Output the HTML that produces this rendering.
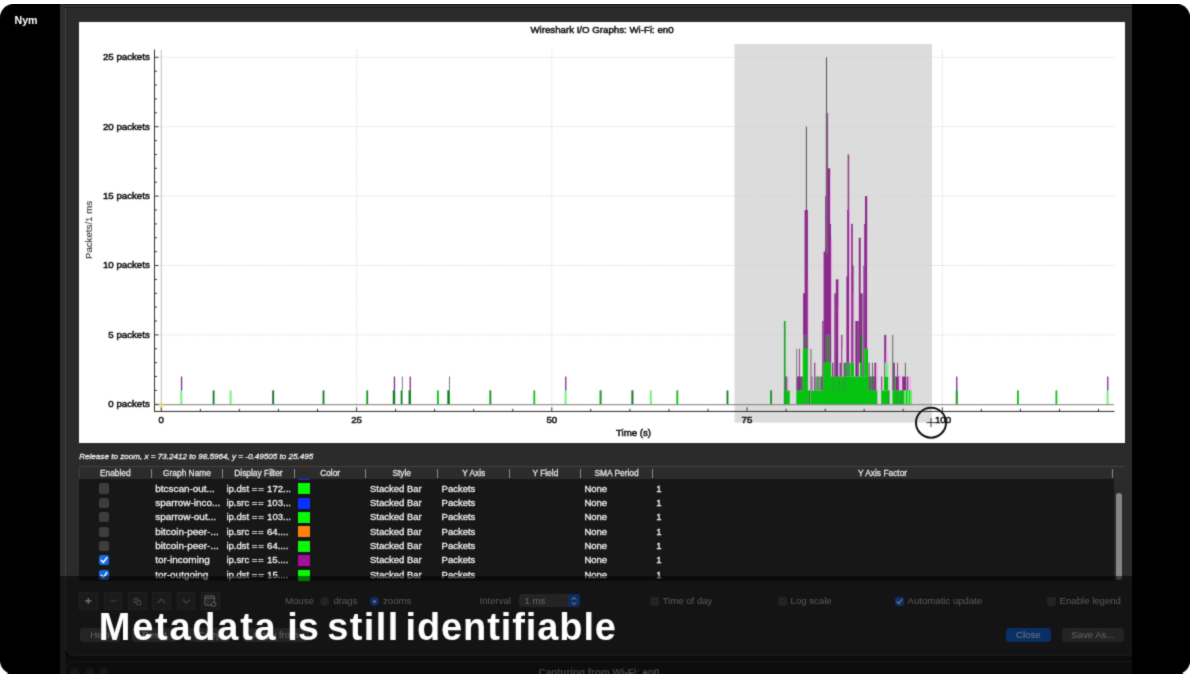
<!DOCTYPE html>
<html lang="en"><head><meta charset="utf-8"><title>Metadata is still identifiable</title>
<style>
html,body{margin:0;padding:0;background:#fff;}
body{width:1190px;height:676px;overflow:hidden;position:relative;font-family:"Liberation Sans",Arial,sans-serif;}
#frame{position:absolute;left:0;top:4px;width:1190px;height:669.5px;background:#000;border-radius:13.5px;overflow:hidden;filter:url(#soft);}
#frame *{box-sizing:border-box;}
.abs{position:absolute;}
#nym{position:absolute;left:14.6px;top:8.7px;color:#fff;font-weight:bold;font-size:10.6px;letter-spacing:-0.1px;line-height:14px;}
#gutter{position:absolute;left:60px;top:0;width:5.5px;height:669px;background:#2c2e30;}
#win{position:absolute;left:65px;top:0;width:1080px;height:651.6px;background:#2b2b2b;border-left:1px solid #414141;border-bottom:1px solid #3c3c3c;border-bottom-left-radius:9px;}
#rbar{position:absolute;left:1131.5px;top:0;width:60px;height:669px;background:#000;}
#wintop{position:absolute;left:65px;top:0;width:1066.5px;height:4px;background:#333536;border-top:1px solid #1c1c1c;border-bottom:1px solid #1a1a1a;}
#below{position:absolute;left:60px;top:651px;width:1071.5px;height:18px;background:#1b1b1b;}
#win2{position:absolute;left:65px;top:657.4px;width:1080px;height:14px;background:#1d1d1d;border-top:1px solid #343434;border-left:1px solid #343434;border-top-left-radius:9px;}
#win2 .t{position:absolute;left:0;width:1066px;top:3.6px;text-align:center;font-size:9.9px;font-weight:bold;color:#8a8a8a;line-height:11px;}
#win2 i{position:absolute;top:5.6px;width:9px;height:9px;border-radius:50%;background:#303030;}
#plot{position:absolute;left:79px;top:18px;width:1045.5px;height:420.5px;background:#fff;}
svg.chart{position:absolute;left:0;top:-4px;}
#status{position:absolute;left:79.2px;top:447.6px;color:#f2f2f2;font-style:italic;font-size:8.1px;-webkit-text-stroke:0.28px #f2f2f2;line-height:10px;white-space:nowrap;transform-origin:0 50%;}
#table{position:absolute;left:0;top:0;}
.thead{position:absolute;left:79.2px;top:462.3px;width:1045.3px;height:13px;background:#2c2c2c;border-top:1px solid #414141;border-left:1px solid #3c3c3c;}
.th{position:absolute;top:463.4px;height:12px;line-height:12px;text-align:center;color:#e4e4e4;font-size:8.4px;-webkit-text-stroke:0.28px #e4e4e4;white-space:nowrap;}
.sep{position:absolute;top:464.6px;width:1px;height:9px;background:#8c8c8c;}
.tbody{position:absolute;left:79.2px;top:475.3px;width:1045.3px;height:102px;background:#171717;overflow:hidden;}
.tr{position:absolute;left:0;width:100%;height:14.4px;}
.tr span{position:absolute;top:0;line-height:14.4px;font-size:9.5px;-webkit-text-stroke:0.3px #f1f1f1;color:#f1f1f1;white-space:nowrap;}
.tr span b{font-weight:normal;letter-spacing:0.7px;}
.cb{position:absolute;left:20.1px;top:1.8px;width:10.2px;height:10.2px;border-radius:2.6px;background:#3d3d3d;}
.cb.on{background:#1769e0;}
.cb svg{position:absolute;left:0;top:0;}
.sw{position:absolute;left:219.2px;top:1.7px;width:12px;height:11px;}
.track{position:absolute;left:1113.8px;top:475.3px;width:10.7px;height:102.4px;background:#2a2a2a;}
.scroll{position:absolute;left:1116.3px;top:488.8px;width:5.8px;height:87px;border-radius:3px;background:#868686;}
#ctl{position:absolute;left:0;top:0;}
.tb{position:absolute;top:587.7px;width:18.6px;height:18.6px;background:#373737;border:1px solid #434343;}
.tb svg{position:absolute;left:-1px;top:-1px;}
.lb{position:absolute;top:589.9px;line-height:13px;font-size:9.6px;color:#b9b9b9;white-space:nowrap;}
.radio{position:absolute;top:592.6px;width:9.4px;height:9.4px;border-radius:50%;background:#4a4a4a;}
.radio.on{background:#1b62d6;}
.radio.on i{position:absolute;left:3px;top:3px;width:3.4px;height:3.4px;border-radius:50%;background:#dfe7fa;}
.combo{position:absolute;left:519px;top:590px;width:61px;height:13.4px;border-radius:3.2px;background:#4b4b4b;overflow:hidden;}
.combo span{position:absolute;left:5.4px;top:0;line-height:13.4px;font-size:9.6px;color:#d4d4d4;}
.combo .step{position:absolute;right:0;top:0;width:12px;height:13.4px;background:#1b5fd0;border-radius:3.2px;}
.combo .step svg{position:absolute;left:2px;top:0.7px;}
.cb2{position:absolute;top:592.6px;width:9.4px;height:9.4px;border-radius:2.4px;background:#4a4a4a;}
.cb2.on{background:#1b62d6;}
.cb2 svg{position:absolute;left:0.2px;top:0.2px;}
.btn{position:absolute;top:624px;height:14.2px;border-radius:3.4px;background:#4d4d4d;color:#cfcfcf;font-size:9.6px;line-height:14.2px;text-align:center;white-space:nowrap;}
.btn.blue{background:#1561d6;color:#f4f4f4;}
#dim{position:absolute;left:60px;top:572px;width:1071.5px;height:97px;background:rgba(0,0,0,0.52);}
#caption{position:absolute;left:0;top:598.8px;width:700px;height:48px;color:#fff;font-weight:bold;font-size:38px;line-height:48px;white-space:nowrap;}
#caption span{position:absolute;top:0;}
</style></head><body>
<svg width="0" height="0" style="position:absolute"><defs><filter id="soft" x="0" y="0" width="100%" height="100%" color-interpolation-filters="sRGB"><feConvolveMatrix order="3" kernelMatrix="0.025 0.1 0.025 0.1 0.5 0.1 0.025 0.1 0.025" divisor="1" edgeMode="duplicate" preserveAlpha="false"/></filter></defs></svg>
<div id="frame">
<div id="nym">Nym</div>
<div id="below"></div>
<div id="gutter"></div>
<div id="win"></div><div id="wintop"></div>
<div id="win2"><i style="left:4.4px"></i><i style="left:19px"></i><i style="left:33.4px"></i><div class="t">Capturing from Wi-Fi: en0</div></div>
<div id="plot"></div>
<svg class="chart" width="1190" height="676" viewBox="0 0 1190 676">
<rect x="734.5" y="44" width="197.5" height="378.6" fill="#dcdcdc"/>
<line x1="158" x2="1114" y1="334.9" y2="334.9" stroke="#cfcfcf" stroke-width="1" stroke-dasharray="1 1.5"/>
<line x1="158" x2="1114" y1="265.5" y2="265.5" stroke="#cfcfcf" stroke-width="1" stroke-dasharray="1 1.5"/>
<line x1="158" x2="1114" y1="196.1" y2="196.1" stroke="#cfcfcf" stroke-width="1" stroke-dasharray="1 1.5"/>
<line x1="158" x2="1114" y1="126.7" y2="126.7" stroke="#cfcfcf" stroke-width="1" stroke-dasharray="1 1.5"/>
<line x1="158" x2="1114" y1="57.3" y2="57.3" stroke="#cfcfcf" stroke-width="1" stroke-dasharray="1 1.5"/>
<line x1="356.6" x2="356.6" y1="50" y2="408" stroke="#d4d4d4" stroke-width="1" stroke-dasharray="1 1.5"/>
<line x1="551.8" x2="551.8" y1="50" y2="408" stroke="#d4d4d4" stroke-width="1" stroke-dasharray="1 1.5"/>
<line x1="747.0" x2="747.0" y1="50" y2="408" stroke="#d4d4d4" stroke-width="1" stroke-dasharray="1 1.5"/>
<line x1="942.3" x2="942.3" y1="50" y2="408" stroke="#d4d4d4" stroke-width="1" stroke-dasharray="1 1.5"/>
<line x1="161.3" x2="161.3" y1="50" y2="411" stroke="#bdbdbd" stroke-width="1"/>
<rect x="180.3" y="390.4" width="2.0" height="13.9" fill="#74f27a"/>
<rect x="180.9" y="376.5" width="1.3" height="13.9" fill="#862486"/>
<rect x="212.7" y="390.4" width="1.8" height="13.9" fill="#0b7d1f"/>
<rect x="229.6" y="390.4" width="2.0" height="13.9" fill="#74f27a"/>
<rect x="272.2" y="390.4" width="1.8" height="13.9" fill="#0b7d1f"/>
<rect x="273.3" y="390.4" width="0.8" height="13.9" fill="#4a5a50"/>
<rect x="322.6" y="390.4" width="1.8" height="13.9" fill="#0b7d1f"/>
<rect x="366.2" y="390.4" width="1.8" height="13.9" fill="#06c312"/>
<rect x="367.3" y="390.4" width="0.8" height="13.9" fill="#4a5a50"/>
<rect x="393.2" y="390.4" width="2.0" height="13.9" fill="#74f27a"/>
<rect x="393.3" y="390.4" width="1.8" height="13.9" fill="#0b7d1f"/>
<rect x="393.8" y="376.5" width="1.3" height="13.9" fill="#862486"/>
<rect x="400.7" y="390.4" width="1.8" height="13.9" fill="#0b7d1f"/>
<rect x="401.9" y="376.5" width="0.8" height="13.9" fill="#5a5a5a"/>
<rect x="409.0" y="390.4" width="2.0" height="13.9" fill="#74f27a"/>
<rect x="409.1" y="390.4" width="1.8" height="13.9" fill="#0b7d1f"/>
<rect x="409.6" y="376.5" width="1.3" height="13.9" fill="#862486"/>
<rect x="437.0" y="390.4" width="1.8" height="13.9" fill="#06c312"/>
<rect x="447.8" y="390.4" width="2.0" height="13.9" fill="#74f27a"/>
<rect x="447.9" y="390.4" width="1.8" height="13.9" fill="#0b7d1f"/>
<rect x="449.1" y="376.5" width="0.8" height="13.9" fill="#5a5a5a"/>
<rect x="489.3" y="390.4" width="1.8" height="13.9" fill="#06c312"/>
<rect x="490.4" y="390.4" width="0.8" height="13.9" fill="#4a5a50"/>
<rect x="533.4" y="390.4" width="1.8" height="13.9" fill="#06c312"/>
<rect x="564.6" y="390.4" width="2.0" height="13.9" fill="#74f27a"/>
<rect x="565.1" y="376.5" width="1.3" height="13.9" fill="#862486"/>
<rect x="599.5" y="390.4" width="1.8" height="13.9" fill="#06c312"/>
<rect x="600.6" y="390.4" width="0.8" height="13.9" fill="#4a5a50"/>
<rect x="631.4" y="390.4" width="1.8" height="13.9" fill="#0b7d1f"/>
<rect x="632.5" y="390.4" width="0.8" height="13.9" fill="#4a5a50"/>
<rect x="649.8" y="390.4" width="2.0" height="13.9" fill="#74f27a"/>
<rect x="676.4" y="390.4" width="1.8" height="13.9" fill="#06c312"/>
<rect x="726.6" y="390.4" width="1.8" height="13.9" fill="#0b7d1f"/>
<rect x="770.0" y="390.4" width="1.8" height="13.9" fill="#06c312"/>
<rect x="771.1" y="390.4" width="0.8" height="13.9" fill="#4a5a50"/>
<rect x="955.7" y="390.4" width="1.8" height="13.9" fill="#06c312"/>
<rect x="956.8" y="390.4" width="0.8" height="13.9" fill="#4a5a50"/>
<rect x="956.1" y="376.5" width="1.3" height="13.9" fill="#862486"/>
<rect x="1017.0" y="390.4" width="1.8" height="13.9" fill="#06c312"/>
<rect x="1055.5" y="390.4" width="1.8" height="13.9" fill="#06c312"/>
<rect x="1106.6" y="390.4" width="2.0" height="13.9" fill="#74f27a"/>
<rect x="1107.1" y="376.5" width="1.3" height="13.9" fill="#862486"/>
<rect x="392.8" y="390.4" width="1.2" height="13.9" fill="#0b7d1f"/>
<rect x="408.6" y="390.4" width="1.2" height="13.9" fill="#0b7d1f"/>
<rect x="447.4" y="390.4" width="1.2" height="13.9" fill="#0b7d1f"/>
<rect x="783.9" y="390.4" width="5.9" height="13.9" fill="#06c312"/>
<rect x="783.9" y="321.0" width="1.7" height="83.3" fill="#14a81e"/>
<rect x="785.3" y="376.5" width="2.2" height="13.9" fill="#6d566f"/>
<rect x="787.3" y="376.5" width="1.7" height="13.9" fill="#f3b4ee"/>
<rect x="796.3" y="390.4" width="12.4" height="13.9" fill="#06c312"/>
<rect x="796.3" y="376.5" width="6.5" height="13.9" fill="#6d566f"/>
<rect x="798.0" y="376.5" width="2.0" height="13.9" fill="#8c2a8c"/>
<rect x="796.4" y="348.8" width="0.8" height="27.8" fill="#5a5a5a"/>
<rect x="799.0" y="348.8" width="0.9" height="27.8" fill="#8c2a8c"/>
<rect x="802.9" y="348.8" width="5.3" height="55.5" fill="#06c312"/>
<rect x="803.2" y="334.9" width="4.8" height="13.9" fill="#6d566f"/>
<rect x="803.1" y="293.3" width="1.9" height="41.6" fill="#8c2a8c"/>
<rect x="804.6" y="210.0" width="3.3" height="124.9" fill="#8c2a8c"/>
<rect x="807.9" y="279.4" width="0.9" height="111.0" fill="#f3b4ee"/>
<rect x="805.9" y="126.7" width="0.9" height="83.3" fill="#4b3a4b"/>
<rect x="808.7" y="390.4" width="1.3" height="13.9" fill="#3c6b40"/>
<rect x="810.5" y="348.8" width="0.9" height="41.6" fill="#5a5a5a"/>
<rect x="810.3" y="390.4" width="67.0" height="13.9" fill="#06c312"/>
<rect x="811.4" y="376.5" width="2.2" height="13.9" fill="#f3b4ee"/>
<rect x="811.4" y="376.5" width="1.0" height="13.9" fill="#6d566f"/>
<rect x="814.1" y="376.5" width="1.3" height="13.9" fill="#6d566f"/>
<rect x="814.2" y="362.7" width="1.1" height="13.9" fill="#8c2a8c"/>
<rect x="815.6" y="376.5" width="0.8" height="13.9" fill="#6d566f"/>
<rect x="816.4" y="376.5" width="0.6" height="13.9" fill="#2fa63a"/>
<rect x="817.0" y="376.5" width="0.8" height="13.9" fill="#3e8a46"/>
<rect x="817.8" y="376.5" width="0.6" height="13.9" fill="#2fa63a"/>
<rect x="818.4" y="376.5" width="0.8" height="13.9" fill="#6d566f"/>
<rect x="819.2" y="376.5" width="0.6" height="13.9" fill="#2fa63a"/>
<rect x="819.8" y="376.5" width="0.8" height="13.9" fill="#3e8a46"/>
<rect x="820.6" y="376.5" width="0.6" height="13.9" fill="#2fa63a"/>
<rect x="821.0" y="376.5" width="1.3" height="13.9" fill="#6d566f"/>
<rect x="822.3" y="321.0" width="1.3" height="55.5" fill="#8c2a8c"/>
<rect x="822.3" y="376.5" width="1.3" height="13.9" fill="#6e3070"/>
<rect x="823.4" y="362.7" width="7.8" height="41.6" fill="#06c312"/>
<rect x="825.0" y="334.9" width="5.3" height="27.8" fill="#3f8a4a"/>
<rect x="826.0" y="334.9" width="1.0" height="27.8" fill="#6d566f"/>
<rect x="828.2" y="334.9" width="0.8" height="27.8" fill="#6d566f"/>
<rect x="823.6" y="251.6" width="2.0" height="111.0" fill="#8c2a8c"/>
<rect x="825.0" y="248.8" width="5.4" height="86.1" fill="#8c2a8c"/>
<rect x="825.2" y="196.1" width="1.7" height="58.3" fill="#8c2a8c"/>
<rect x="825.8" y="112.8" width="2.3" height="141.6" fill="#7a5a7c"/>
<rect x="827.8" y="168.3" width="2.4" height="86.1" fill="#8c2a8c"/>
<rect x="829.4" y="223.9" width="1.6" height="30.5" fill="#8c2a8c"/>
<rect x="830.0" y="237.7" width="1.4" height="124.9" fill="#8c2a8c"/>
<rect x="831.2" y="237.7" width="1.0" height="138.8" fill="#f3b4ee"/>
<rect x="830.2" y="175.3" width="0.8" height="48.6" fill="#f3b4ee"/>
<rect x="826.1" y="57.3" width="0.9" height="55.5" fill="#4b3a4b"/>
<rect x="831.0" y="376.5" width="15.5" height="27.8" fill="#06c312"/>
<rect x="833.0" y="376.5" width="0.8" height="13.9" fill="#3f8a4a"/>
<rect x="838.6" y="376.5" width="0.8" height="13.9" fill="#3f8a4a"/>
<rect x="842.6" y="376.5" width="0.8" height="13.9" fill="#3f8a4a"/>
<rect x="845.0" y="376.5" width="0.8" height="13.9" fill="#3f8a4a"/>
<rect x="832.0" y="362.7" width="1.5" height="13.9" fill="#6d566f"/>
<rect x="834.3" y="293.3" width="1.5" height="83.3" fill="#8c2a8c"/>
<rect x="835.8" y="279.4" width="2.6" height="97.2" fill="#8c2a8c"/>
<rect x="838.4" y="307.1" width="0.8" height="69.4" fill="#f3b4ee"/>
<rect x="836.4" y="348.8" width="0.8" height="27.8" fill="#6e3070"/>
<rect x="839.5" y="362.7" width="1.5" height="13.9" fill="#6d566f"/>
<rect x="841.2" y="334.9" width="1.2" height="41.6" fill="#8c2a8c"/>
<rect x="842.4" y="348.8" width="0.6" height="27.8" fill="#f3b4ee"/>
<rect x="843.6" y="362.7" width="1.4" height="13.9" fill="#6d566f"/>
<rect x="845.0" y="362.7" width="1.4" height="13.9" fill="#3f8a4a"/>
<rect x="846.0" y="376.5" width="22.5" height="27.8" fill="#06c312"/>
<rect x="846.0" y="362.7" width="4.7" height="13.9" fill="#3f9a4a"/>
<rect x="846.4" y="276.6" width="3.0" height="86.1" fill="#8c2a8c"/>
<rect x="847.2" y="210.0" width="2.2" height="69.4" fill="#8c2a8c"/>
<rect x="847.6" y="154.5" width="1.6" height="58.3" fill="#8a3f8c"/>
<rect x="849.2" y="210.0" width="1.2" height="152.7" fill="#f3b4ee"/>
<rect x="851.0" y="362.7" width="3.0" height="13.9" fill="#06c312"/>
<rect x="851.2" y="223.9" width="1.6" height="138.8" fill="#8c2a8c"/>
<rect x="852.4" y="265.5" width="1.2" height="97.2" fill="#8c2a8c"/>
<rect x="853.6" y="293.3" width="1.0" height="69.4" fill="#f3b4ee"/>
<rect x="855.4" y="321.0" width="1.8" height="55.5" fill="#6e3070"/>
<rect x="857.2" y="321.0" width="1.6" height="55.5" fill="#8c2a8c"/>
<rect x="858.8" y="237.7" width="1.9" height="124.9" fill="#8c2a8c"/>
<rect x="860.2" y="293.3" width="2.0" height="69.4" fill="#8c2a8c"/>
<rect x="860.0" y="362.7" width="2.6" height="13.9" fill="#06c312"/>
<rect x="860.4" y="334.9" width="1.6" height="27.8" fill="#0b7d1f"/>
<rect x="862.6" y="293.3" width="0.8" height="83.3" fill="#6e3070"/>
<rect x="863.4" y="265.5" width="0.8" height="111.0" fill="#8c2a8c"/>
<rect x="864.2" y="348.8" width="3.8" height="27.8" fill="#06c312"/>
<rect x="864.2" y="223.9" width="1.0" height="124.9" fill="#8c2a8c"/>
<rect x="865.0" y="196.1" width="2.2" height="152.7" fill="#8c2a8c"/>
<rect x="867.2" y="237.7" width="0.8" height="111.0" fill="#f3b4ee"/>
<rect x="868.5" y="376.5" width="8.8" height="13.9" fill="#3f9a4a"/>
<rect x="868.5" y="362.7" width="1.2" height="27.8" fill="#5a5a5a"/>
<rect x="870.4" y="376.5" width="1.0" height="13.9" fill="#6d566f"/>
<rect x="872.1" y="362.7" width="0.9" height="27.8" fill="#5a5a5a"/>
<rect x="873.4" y="376.5" width="1.0" height="13.9" fill="#6d566f"/>
<rect x="874.4" y="362.7" width="1.8" height="27.8" fill="#8c2a8c"/>
<rect x="876.2" y="362.7" width="1.8" height="27.8" fill="#f3b4ee"/>
<rect x="881.2" y="390.4" width="8.2" height="13.9" fill="#06c312"/>
<rect x="881.2" y="376.5" width="1.2" height="13.9" fill="#8c2a8c"/>
<rect x="882.4" y="376.5" width="1.0" height="13.9" fill="#f3b4ee"/>
<rect x="884.0" y="376.5" width="4.2" height="13.9" fill="#06c312"/>
<rect x="885.8" y="362.7" width="2.4" height="13.9" fill="#74f27a"/>
<rect x="884.2" y="334.9" width="2.0" height="27.8" fill="#8c2a8c"/>
<rect x="884.2" y="362.7" width="1.0" height="13.9" fill="#6d566f"/>
<rect x="886.2" y="348.8" width="1.6" height="13.9" fill="#f3b4ee"/>
<rect x="888.4" y="390.4" width="1.0" height="13.9" fill="#3c8a44"/>
<rect x="892.4" y="390.4" width="19.2" height="13.9" fill="#06c312"/>
<rect x="892.3" y="334.9" width="0.9" height="55.5" fill="#5a5a5a"/>
<rect x="893.2" y="362.7" width="1.6" height="27.8" fill="#6e3070"/>
<rect x="894.8" y="376.5" width="1.0" height="13.9" fill="#06c312"/>
<rect x="895.8" y="376.5" width="4.6" height="13.9" fill="#8c2a8c"/>
<rect x="897.0" y="362.7" width="0.9" height="13.9" fill="#8c2a8c"/>
<rect x="898.8" y="376.5" width="2.2" height="13.9" fill="#f3b4ee"/>
<rect x="896.6" y="390.4" width="0.8" height="13.9" fill="#3c8a44"/>
<rect x="900.6" y="390.4" width="0.8" height="13.9" fill="#3c8a44"/>
<rect x="902.2" y="376.5" width="4.1" height="13.9" fill="#8c2a8c"/>
<rect x="904.9" y="362.7" width="0.9" height="13.9" fill="#5a5a5a"/>
<rect x="903.4" y="390.4" width="0.8" height="13.9" fill="#5a8a60"/>
<rect x="904.2" y="390.4" width="7.4" height="13.9" fill="#74f27a"/>
<rect x="906.0" y="390.4" width="1.2" height="13.9" fill="#06c312"/>
<rect x="908.8" y="390.4" width="1.0" height="13.9" fill="#06c312"/>
<rect x="908.2" y="376.5" width="3.0" height="13.9" fill="#f3b4ee"/>
<rect x="907.0" y="376.5" width="1.2" height="13.9" fill="#6d566f"/>
<line x1="154.5" x2="1114" y1="404.7" y2="404.7" stroke="#7d7d7d" stroke-width="1"/>
<line x1="154.5" x2="154.5" y1="49.5" y2="411.9" stroke="#2e2e2e" stroke-width="1"/>
<line x1="154" x2="1114.5" y1="411.45" y2="411.45" stroke="#2a2a2a" stroke-width="1"/>
<line x1="154.5" x2="158.5" y1="404.3" y2="404.3" stroke="#3a3a3a" stroke-width="1"/>
<line x1="154.5" x2="157" y1="390.4" y2="390.4" stroke="#333" stroke-width="1"/>
<line x1="154.5" x2="157" y1="376.5" y2="376.5" stroke="#333" stroke-width="1"/>
<line x1="154.5" x2="157" y1="362.7" y2="362.7" stroke="#333" stroke-width="1"/>
<line x1="154.5" x2="157" y1="348.8" y2="348.8" stroke="#333" stroke-width="1"/>
<line x1="154.5" x2="158.5" y1="334.9" y2="334.9" stroke="#3a3a3a" stroke-width="1"/>
<line x1="154.5" x2="157" y1="321.0" y2="321.0" stroke="#333" stroke-width="1"/>
<line x1="154.5" x2="157" y1="307.1" y2="307.1" stroke="#333" stroke-width="1"/>
<line x1="154.5" x2="157" y1="293.3" y2="293.3" stroke="#333" stroke-width="1"/>
<line x1="154.5" x2="157" y1="279.4" y2="279.4" stroke="#333" stroke-width="1"/>
<line x1="154.5" x2="158.5" y1="265.5" y2="265.5" stroke="#3a3a3a" stroke-width="1"/>
<line x1="154.5" x2="157" y1="251.6" y2="251.6" stroke="#333" stroke-width="1"/>
<line x1="154.5" x2="157" y1="237.7" y2="237.7" stroke="#333" stroke-width="1"/>
<line x1="154.5" x2="157" y1="223.9" y2="223.9" stroke="#333" stroke-width="1"/>
<line x1="154.5" x2="157" y1="210.0" y2="210.0" stroke="#333" stroke-width="1"/>
<line x1="154.5" x2="158.5" y1="196.1" y2="196.1" stroke="#3a3a3a" stroke-width="1"/>
<line x1="154.5" x2="157" y1="182.2" y2="182.2" stroke="#333" stroke-width="1"/>
<line x1="154.5" x2="157" y1="168.3" y2="168.3" stroke="#333" stroke-width="1"/>
<line x1="154.5" x2="157" y1="154.5" y2="154.5" stroke="#333" stroke-width="1"/>
<line x1="154.5" x2="157" y1="140.6" y2="140.6" stroke="#333" stroke-width="1"/>
<line x1="154.5" x2="158.5" y1="126.7" y2="126.7" stroke="#3a3a3a" stroke-width="1"/>
<line x1="154.5" x2="157" y1="112.8" y2="112.8" stroke="#333" stroke-width="1"/>
<line x1="154.5" x2="157" y1="98.9" y2="98.9" stroke="#333" stroke-width="1"/>
<line x1="154.5" x2="157" y1="85.1" y2="85.1" stroke="#333" stroke-width="1"/>
<line x1="154.5" x2="157" y1="71.2" y2="71.2" stroke="#333" stroke-width="1"/>
<line x1="154.5" x2="158.5" y1="57.3" y2="57.3" stroke="#3a3a3a" stroke-width="1"/>
<line x1="161.3" x2="161.3" y1="407.3" y2="411.2" stroke="#3a3a3a" stroke-width="1"/>
<line x1="200.4" x2="200.4" y1="408.8" y2="411.2" stroke="#333" stroke-width="1"/>
<line x1="239.4" x2="239.4" y1="408.8" y2="411.2" stroke="#333" stroke-width="1"/>
<line x1="278.4" x2="278.4" y1="408.8" y2="411.2" stroke="#333" stroke-width="1"/>
<line x1="317.5" x2="317.5" y1="408.8" y2="411.2" stroke="#333" stroke-width="1"/>
<line x1="356.6" x2="356.6" y1="407.3" y2="411.2" stroke="#3a3a3a" stroke-width="1"/>
<line x1="395.6" x2="395.6" y1="408.8" y2="411.2" stroke="#333" stroke-width="1"/>
<line x1="434.6" x2="434.6" y1="408.8" y2="411.2" stroke="#333" stroke-width="1"/>
<line x1="473.7" x2="473.7" y1="408.8" y2="411.2" stroke="#333" stroke-width="1"/>
<line x1="512.8" x2="512.8" y1="408.8" y2="411.2" stroke="#333" stroke-width="1"/>
<line x1="551.8" x2="551.8" y1="407.3" y2="411.2" stroke="#3a3a3a" stroke-width="1"/>
<line x1="590.8" x2="590.8" y1="408.8" y2="411.2" stroke="#333" stroke-width="1"/>
<line x1="629.9" x2="629.9" y1="408.8" y2="411.2" stroke="#333" stroke-width="1"/>
<line x1="669.0" x2="669.0" y1="408.8" y2="411.2" stroke="#333" stroke-width="1"/>
<line x1="708.0" x2="708.0" y1="408.8" y2="411.2" stroke="#333" stroke-width="1"/>
<line x1="747.0" x2="747.0" y1="407.3" y2="411.2" stroke="#3a3a3a" stroke-width="1"/>
<line x1="786.1" x2="786.1" y1="408.8" y2="411.2" stroke="#333" stroke-width="1"/>
<line x1="825.2" x2="825.2" y1="408.8" y2="411.2" stroke="#333" stroke-width="1"/>
<line x1="864.2" x2="864.2" y1="408.8" y2="411.2" stroke="#333" stroke-width="1"/>
<line x1="903.2" x2="903.2" y1="408.8" y2="411.2" stroke="#333" stroke-width="1"/>
<line x1="942.3" x2="942.3" y1="407.3" y2="411.2" stroke="#3a3a3a" stroke-width="1"/>
<line x1="981.3" x2="981.3" y1="408.8" y2="411.2" stroke="#333" stroke-width="1"/>
<line x1="1020.4" x2="1020.4" y1="408.8" y2="411.2" stroke="#333" stroke-width="1"/>
<line x1="1059.5" x2="1059.5" y1="408.8" y2="411.2" stroke="#333" stroke-width="1"/>
<line x1="1098.5" x2="1098.5" y1="408.8" y2="411.2" stroke="#333" stroke-width="1"/>
<circle cx="161.3" cy="404.8" r="2.8" fill="#f7e36a" fill-opacity="0.6"/>
<g font-family="'Liberation Sans', Arial, sans-serif" font-size="9.7" fill="#111" stroke="#111" stroke-width="0.5" paint-order="stroke">
<text x="149.8" y="407.2" text-anchor="end">0 packets</text>
<text x="149.8" y="337.8" text-anchor="end">5 packets</text>
<text x="149.8" y="268.4" text-anchor="end">10 packets</text>
<text x="149.8" y="199.0" text-anchor="end">15 packets</text>
<text x="149.8" y="129.6" text-anchor="end">20 packets</text>
<text x="149.8" y="60.2" text-anchor="end">25 packets</text>
<text x="161.3" y="423" text-anchor="middle">0</text>
<text x="356.6" y="423" text-anchor="middle">25</text>
<text x="551.8" y="423" text-anchor="middle">50</text>
<text x="747.0" y="423" text-anchor="middle">75</text>
<text x="943" y="423" text-anchor="middle">100</text>
<text x="633.5" y="435.8" text-anchor="middle">Time (s)</text>
<text x="602" y="32.5" text-anchor="middle">Wireshark I/O Graphs: Wi-Fi: en0</text>
<text transform="translate(92.3 230) rotate(-90)" text-anchor="middle" stroke-width="0.1" fill="#333">Packets/1 ms</text>
</g>
<circle cx="931" cy="422.7" r="15" fill="none" stroke="#111" stroke-width="2"/>
<path d="M926.5 422.6H935.5M931 418.1V427.1" stroke="#222" stroke-width="0.9" fill="none"/>
</svg>
<div id="status">Release to zoom, x = 73.2412 to 98.5964, y = -0.49505 to 25.495</div>
<div id="table"><div class="thead"></div>
<div class="th" style="left:79.2px;width:72.3px">Enabled</div>
<div class="sep" style="left:151.0px"></div>
<div class="th" style="left:151.5px;width:71.0px">Graph Name</div>
<div class="sep" style="left:222.0px"></div>
<div class="th" style="left:222.5px;width:71.9px">Display Filter</div>
<div class="sep" style="left:293.9px"></div>
<div class="th" style="left:294.4px;width:71.5px">Color</div>
<div class="sep" style="left:365.4px"></div>
<div class="th" style="left:365.9px;width:71.6px">Style</div>
<div class="sep" style="left:437.0px"></div>
<div class="th" style="left:437.5px;width:72.4px">Y Axis</div>
<div class="sep" style="left:509.4px"></div>
<div class="th" style="left:509.9px;width:70.9px">Y Field</div>
<div class="sep" style="left:580.3px"></div>
<div class="th" style="left:580.8px;width:71.6px">SMA Period</div>
<div class="sep" style="left:651.9px"></div>
<div class="th" style="left:652.4px;width:460.3px">Y Axis Factor</div>
<div class="sep" style="left:1112.2px"></div>
<div class="tbody">
<div class="sw" style="top:-10.4px;background:#0a32ff"></div>
<div class="tr" style="top:2.30px">
<div class="cb"></div>
<span style="left:76px;font-size:9.95px">btcscan-out...</span><span style="left:147.2px;font-size:9.55px">ip.dst <b>==</b> 172...</span>
<div class="sw" style="background:#08f808"></div>
<span style="left:290.8px">Stacked Bar</span><span style="left:362.4px">Packets</span><span style="left:505.2px">None</span><span style="left:577px">1</span>
</div>
<div class="tr" style="top:16.68px">
<div class="cb"></div>
<span style="left:76px;font-size:9.95px">sparrow-inco...</span><span style="left:147.2px;font-size:9.55px">ip.src <b>==</b> 103...</span>
<div class="sw" style="background:#0a32ff"></div>
<span style="left:290.8px">Stacked Bar</span><span style="left:362.4px">Packets</span><span style="left:505.2px">None</span><span style="left:577px">1</span>
</div>
<div class="tr" style="top:31.06px">
<div class="cb"></div>
<span style="left:76px;font-size:9.95px">sparrow-out...</span><span style="left:147.2px;font-size:9.55px">ip.dst <b>==</b> 103...</span>
<div class="sw" style="background:#08f808"></div>
<span style="left:290.8px">Stacked Bar</span><span style="left:362.4px">Packets</span><span style="left:505.2px">None</span><span style="left:577px">1</span>
</div>
<div class="tr" style="top:45.44px">
<div class="cb"></div>
<span style="left:76px;font-size:9.95px">bitcoin-peer-...</span><span style="left:147.2px;font-size:9.55px">ip.src <b>==</b> 64....</span>
<div class="sw" style="background:#ff7f0e"></div>
<span style="left:290.8px">Stacked Bar</span><span style="left:362.4px">Packets</span><span style="left:505.2px">None</span><span style="left:577px">1</span>
</div>
<div class="tr" style="top:59.82px">
<div class="cb"></div>
<span style="left:76px;font-size:9.95px">bitcoin-peer-...</span><span style="left:147.2px;font-size:9.55px">ip.dst <b>==</b> 64....</span>
<div class="sw" style="background:#08f808"></div>
<span style="left:290.8px">Stacked Bar</span><span style="left:362.4px">Packets</span><span style="left:505.2px">None</span><span style="left:577px">1</span>
</div>
<div class="tr" style="top:74.20px">
<div class="cb on"><svg width="10.2" height="10.2" viewBox="0 0 10 10"><path d="M2.3 5.2L4.2 7.3L7.7 2.6" fill="none" stroke="#fff" stroke-width="1.5" stroke-linecap="round" stroke-linejoin="round"/></svg></div>
<span style="left:76px;font-size:9.95px">tor-incoming</span><span style="left:147.2px;font-size:9.55px">ip.src <b>==</b> 15....</span>
<div class="sw" style="background:#a0109a"></div>
<span style="left:290.8px">Stacked Bar</span><span style="left:362.4px">Packets</span><span style="left:505.2px">None</span><span style="left:577px">1</span>
</div>
<div class="tr" style="top:88.58px">
<div class="cb on"><svg width="10.2" height="10.2" viewBox="0 0 10 10"><path d="M2.3 5.2L4.2 7.3L7.7 2.6" fill="none" stroke="#fff" stroke-width="1.5" stroke-linecap="round" stroke-linejoin="round"/></svg></div>
<span style="left:76px;font-size:9.95px">tor-outgoing</span><span style="left:147.2px;font-size:9.55px">ip.dst <b>==</b> 15....</span>
<div class="sw" style="background:#08f808"></div>
<span style="left:290.8px">Stacked Bar</span><span style="left:362.4px">Packets</span><span style="left:505.2px">None</span><span style="left:577px">1</span>
</div>
</div>
<div class="track"></div><div class="scroll"></div></div>
<div id="ctl"><div class="tb" style="left:79.2px"><svg width="18" height="18" viewBox="0 0 18 18"><path d="M9.3 5.9V12.1M6.2 9H12.4" stroke="#f0f0f0" stroke-width="1.3" fill="none"/></svg></div>
<div class="tb" style="left:103.6px"><svg width="18" height="18" viewBox="0 0 18 18"><path d="M6.3 9H12.3" stroke="#8e8e8e" stroke-width="1.2" fill="none"/></svg></div>
<div class="tb" style="left:128.0px"><svg width="18" height="18" viewBox="0 0 18 18"><rect x="6.2" y="6.6" width="4" height="3.8" rx="0.2" fill="none" stroke="#a0a0a0" stroke-width="1"/><rect x="8.9" y="8.8" width="3.8" height="4" rx="0.2" fill="#383838" stroke="#a0a0a0" stroke-width="1"/></svg></div>
<div class="tb" style="left:152.4px"><svg width="18" height="18" viewBox="0 0 18 18"><path d="M5.6 11L9.4 7.2L13.2 11" stroke="#8e8e8e" stroke-width="1.2" fill="none"/></svg></div>
<div class="tb" style="left:176.8px"><svg width="18" height="18" viewBox="0 0 18 18"><path d="M5.6 7.3L9.4 11.1L13.2 7.3" stroke="#8e8e8e" stroke-width="1.2" fill="none"/></svg></div>
<div class="tb" style="left:201.2px"><svg width="18" height="18" viewBox="0 0 18 18"><rect x="3.9" y="4" width="9.4" height="9.2" rx="0.8" fill="none" stroke="#d6d6d6" stroke-width="1"/><path d="M3.9 6.2H13.3" stroke="#d6d6d6" stroke-width="1" fill="none"/><path d="M5.8 8.2H9.6M5.8 9.8H8.8M5.8 11.4H8.4" stroke="#b8b8b8" stroke-width="0.8" fill="none" stroke-dasharray="1 0.6"/><circle cx="12.6" cy="12.2" r="2.2" fill="#383838" stroke="#d6d6d6" stroke-width="1"/></svg></div>
<span class="lb" style="left:285px">Mouse</span>
<div class="radio" style="left:320px"></div><span class="lb" style="left:333.5px">drags</span>
<div class="radio on" style="left:369.5px"><i></i></div><span class="lb" style="left:383px">zooms</span>
<span class="lb" style="left:479.5px">Interval</span>
<div class="combo"><span>1 ms</span><div class="step"><svg width="8" height="12" viewBox="0 0 8 12"><path d="M1.8 4.6L4 2.4L6.2 4.6M1.8 7.4L4 9.6L6.2 7.4" stroke="#cfd8ea" stroke-width="1.1" fill="none" stroke-linecap="round" stroke-linejoin="round"/></svg></div></div>
<div class="cb2" style="left:650px"></div>
<span class="lb" style="left:662.6px">Time of day</span>
<div class="cb2" style="left:778px"></div>
<span class="lb" style="left:790.6px">Log scale</span>
<div class="cb2 on" style="left:895px"><svg width="9" height="9" viewBox="0 0 10 10"><path d="M2.3 5.2L4.2 7.3L7.7 2.6" fill="none" stroke="#e8eefc" stroke-width="1.5" stroke-linecap="round" stroke-linejoin="round"/></svg></div>
<span class="lb" style="left:907.6px">Automatic update</span>
<div class="cb2" style="left:1047px"></div>
<span class="lb" style="left:1059.6px">Enable legend</span>
<div class="btn" style="left:80px;width:40px">Help</div>
<div class="btn" style="left:132px;width:45px">Reset</div>
<div class="btn" style="left:188px;width:42px">Copy</div>
<div class="btn" style="left:243px;width:66px">Copy from</div>
<div class="btn blue" style="left:1006px;width:44.5px">Close</div>
<div class="btn" style="left:1061.5px;width:62.5px">Save As...</div></div>
<div id="dim"></div>
<div id="rbar"></div>
<div id="caption"><span style="left:98.8px;letter-spacing:1.75px">Metadata</span> <span style="left:287.3px;letter-spacing:-0.1px">is</span> <span style="left:327.2px;letter-spacing:1.4px">still</span> <span style="left:405.5px;letter-spacing:0.9px">identifiable</span></div>
</div>
</body></html>
